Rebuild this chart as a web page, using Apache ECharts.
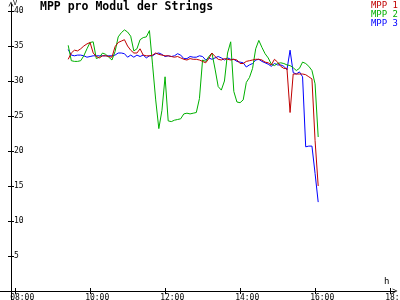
<!DOCTYPE html>
<html>
<head>
<meta charset="utf-8">
<script src="https://cdn.jsdelivr.net/npm/echarts@6/dist/echarts.min.js"></script>
<style>html,body{margin:0;padding:0;background:#fff;}#c{width:400px;height:300px;}</style>
</head>
<body>
<div id="c"></div>
<script>
const times = ["09:24","09:29","09:34","09:39","09:44","09:49","09:54","09:59",
"10:04","10:09","10:14","10:19","10:24","10:29","10:34","10:39","10:44","10:49","10:54","10:59",
"11:04","11:09","11:14","11:19","11:24","11:29","11:34","11:39","11:44","11:49","11:54","11:59",
"12:04","12:09","12:14","12:19","12:24","12:29","12:34","12:39","12:44","12:49","12:54","12:59",
"13:04","13:09","13:14","13:19","13:24","13:29","13:34","13:39","13:44","13:49","13:54","13:59",
"14:04","14:09","14:14","14:19","14:24","14:29","14:34","14:39","14:44","14:49","14:54","14:59",
"15:04","15:09","15:14","15:19","15:24","15:29","15:34","15:39","15:44","15:49","15:54","15:59",
"16:04"];
const mpp1 = [33.1,34.0,34.4,34.3,34.6,35.0,35.3,35.5,34.0,33.5,33.3,33.6,33.6,33.5,33.4,34.9,35.5,35.7,35.9,35.0,
34.4,34.0,34.0,34.6,33.7,33.6,33.6,33.7,34.0,33.8,33.7,33.6,33.6,33.5,33.4,33.5,33.3,33.1,33.0,33.2,
33.1,33.1,33.0,32.8,32.6,33.2,34.0,33.5,33.1,33.0,33.2,33.1,33.0,33.1,33.0,32.5,32.5,32.8,32.9,33.0,
33.1,33.1,33.0,32.7,32.6,32.3,33.1,32.7,32.1,31.8,31.8,25.5,31.0,31.0,31.0,31.0,30.9,30.6,30.3,21.5,
15.0];
const mpp2 = [35.1,32.9,32.8,32.8,32.9,33.6,34.6,35.5,35.6,33.2,33.4,34.0,33.8,33.4,33.0,34.2,36.3,36.9,37.3,37.0,
36.4,34.3,34.6,35.9,36.2,36.3,37.2,32.3,27.3,23.2,25.8,30.6,24.3,24.2,24.4,24.5,24.6,25.3,25.4,25.3,
25.4,25.5,27.5,33.0,32.8,33.5,34.0,31.7,29.2,28.7,30.0,34.0,35.6,28.5,27.0,26.9,27.3,29.8,30.5,31.8,
34.6,35.8,34.8,33.9,33.3,32.4,32.2,32.5,32.6,32.5,32.3,32.2,31.9,31.5,31.8,32.7,32.5,32.1,31.5,29.6,
22.0];
const mpp3 = [34.5,33.7,33.6,33.7,33.7,33.6,33.4,33.5,33.6,33.6,33.6,33.6,33.6,33.6,33.6,33.7,34.0,34.0,33.9,33.4,
33.7,33.4,33.7,33.5,33.7,33.3,33.6,33.6,33.9,34.0,33.8,33.5,33.6,33.5,33.6,33.9,33.7,33.2,33.2,33.5,
33.4,33.4,33.6,33.5,33.0,33.3,33.1,33.3,33.5,33.3,33.0,33.3,33.1,33.1,32.8,32.7,32.6,32.0,32.3,32.5,
33.0,33.1,32.8,32.6,32.4,32.1,32.5,32.3,32.3,32.1,31.6,34.4,31.2,31.0,31.3,30.6,20.6,20.7,20.7,16.8,
12.7];
const seriesNames = ["MPP 1","MPP 2","MPP 3"];
const seriesColors = ["#c00000","#00b000","#0000ff"];
const xTickLabels = ["08:00","10:00","12:00","14:00","16:00","18:00"];
const yTickLabels = ["5","10","15","20","25","30","35","40"];

function toHour(t){const p=t.split(":");return +p[0] + (+p[1])/60;}
function pairs(vals){return times.map((t,i)=>[toHour(t), vals[i]]);}

const mono = "DejaVu Sans Mono";
const chev = 'path://M0,10L5,0L10,10L8.6,10L5,2.8L1.4,10Z';
const chart = echarts.init(document.getElementById('c'), null, {renderer:'canvas'});
const xFmt = v => { const h=Math.round(v); const s=(h<10?'0':'')+h+':00'; return xTickLabels.indexOf(s)>=0 ? s : ''; };
const yFmt = v => yTickLabels.indexOf(String(v))>=0 ? String(v) : '';
chart.setOption({
  animation:false,
  backgroundColor:'#fff',
  title:{text:'MPP pro Modul der Strings', left:40, top:1, padding:0,
    textStyle:{fontFamily:mono, fontSize:11.5, fontWeight:'bold', color:'#000'}},
  legend:{orient:'vertical', right:2, top:1, padding:0, itemGap:0, itemWidth:0, itemHeight:7,
    selectedMode:false, icon:'rect',
    textStyle:{fontFamily:mono, fontSize:9, lineHeight:7},
    data: seriesNames.map((n,i)=>({name:n, textStyle:{color:seriesColors[i]}, itemStyle:{opacity:0}}))},
  grid:[
    {left:15.7, right:9.3, top:11, bottom:9, containLabel:false, outerBoundsMode:'none'},
    {left:0, right:5, top:0, bottom:9, containLabel:false, outerBoundsMode:'none'},
    {left:11, right:0, top:4, bottom:0, containLabel:false, outerBoundsMode:'none'}
  ],
  xAxis:[
    {gridIndex:1, type:'value', position:'bottom', min:0, max:1,
      axisLine:{show:true, onZero:false, lineStyle:{color:'#000', width:1}, symbol:['none', chev], symbolSize:[8,5]},
      axisTick:{show:false}, axisLabel:{show:false}, splitLine:{show:false}},
    {gridIndex:0, type:'value', position:'bottom', min:8, max:18, interval:2,
      axisLine:{show:false, onZero:false}, splitLine:{show:false},
      axisTick:{show:true, length:3, lineStyle:{color:'#000'}},
      axisLabel:{show:true, formatter:xFmt, margin:3, fontFamily:mono, fontSize:8, color:'#000',
        align:'center', padding:[0,0,0,13]}},
    {gridIndex:0, type:'value', position:'bottom', min:8, max:18, interval:2,
      axisLine:{show:false, onZero:false}, splitLine:{show:false}, axisLabel:{show:false},
      axisTick:{show:true, inside:true, length:3, lineStyle:{color:'#000'}}},
    {gridIndex:2, type:'value', min:0, max:1, show:false}
  ],
  yAxis:[
    {gridIndex:1, type:'value', min:0, max:1, show:false},
    {gridIndex:0, type:'value', position:'left', min:0, max:40, interval:5, offset:4.7,
      axisLine:{show:false, onZero:false}, splitLine:{show:false},
      axisTick:{show:true, length:3, lineStyle:{color:'#000'}},
      axisLabel:{show:true, inside:true, margin:3, formatter:yFmt, fontFamily:mono, fontSize:8, color:'#000'}},
    {gridIndex:0, type:'value', position:'left', min:0, max:40, interval:5, offset:4.7,
      axisLine:{show:false, onZero:false}, splitLine:{show:false}, axisLabel:{show:false},
      axisTick:{show:true, inside:true, length:3, lineStyle:{color:'#000'}}},
    {gridIndex:2, type:'value', position:'left', min:0, max:1,
      axisLine:{show:true, onZero:false, lineStyle:{color:'#000', width:1}, symbol:['none', chev], symbolSize:[8,5]},
      axisTick:{show:false}, axisLabel:{show:false}, splitLine:{show:false}}
  ],
  graphic:[
    {type:'text', left:13, top:0, style:{text:'V', font:'7px "DejaVu Sans Mono"', fill:'#000'}},
    {type:'text', left:384, top:277, style:{text:'h', font:'9px "DejaVu Sans Mono"', fill:'#000'}}
  ],
  series:[mpp1, mpp2, mpp3].map((vals,i)=>({
    name:seriesNames[i], type:'line', xAxisIndex:1, yAxisIndex:1,
    data:pairs(vals), showSymbol:false, symbol:'none',
    lineStyle:{width:1, color:seriesColors[i]}, itemStyle:{color:seriesColors[i]}, z:3-i
  }))
});
</script>
</body>
</html>
